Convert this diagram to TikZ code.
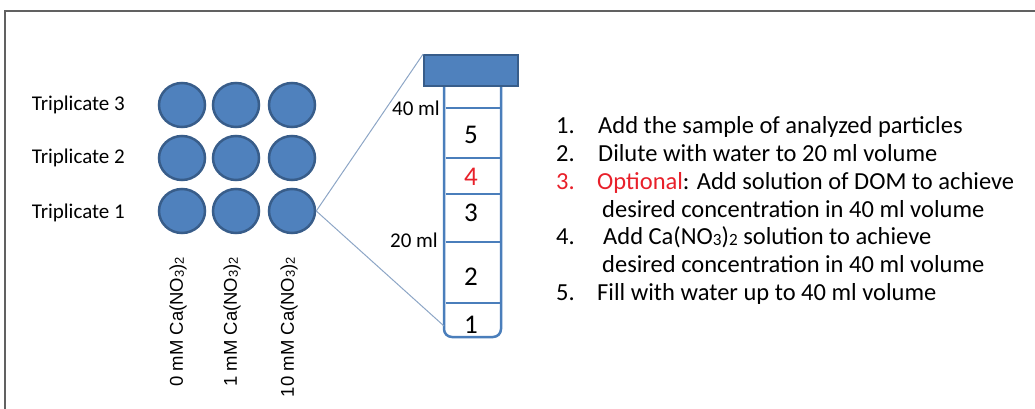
\documentclass[tikz,border=0pt]{standalone}
\usepackage{fontspec}
\setmainfont{Carlito}
\newfontfamily\arialfont{Liberation Sans}
\usepackage{tikz}
\usetikzlibrary{shapes.geometric}

\definecolor{wellblue}{HTML}{4F81BD}
\definecolor{welledge}{HTML}{385D8A}
\definecolor{tubeblue}{HTML}{4A7EBB}
\definecolor{zoomgray}{HTML}{8DA6C6}
\definecolor{optred}{HTML}{E8202A}
\newcommand{\lowdig}[1]{\raisebox{-0.1ex}{\scalebox{0.7}{#1}}}

\tikzset{
  well/.style={ellipse, fill=wellblue, draw=welledge, line width=2.5pt,
    minimum width=46pt, minimum height=44pt, inner sep=0pt},
  tubebody/.style={draw=tubeblue, fill=white, line width=2.5pt, rounded corners=8pt,
    minimum width=57pt, minimum height=261pt, inner sep=0pt},
  capbox/.style={draw=welledge, fill=wellblue, line width=1.8pt,
    minimum width=94pt, minimum height=31pt, inner sep=0pt},
  tubeline/.style={draw=tubeblue, line width=1.8pt},
  zoomline/.style={draw=zoomgray, line width=1pt},
  rowlabel/.style={anchor=east, inner sep=0pt, font=\fontsize{21}{25}\selectfont},
  collabel/.style={anchor=east, rotate=90, inner sep=0pt, font=\arialfont\fontsize{18.5}{22}\selectfont},
  tubenum/.style={inner sep=0pt, font=\fontsize{27}{32}\selectfont},
  steplabel/.style={anchor=base west, inner sep=0pt, font=\fontsize{24.5}{29}\selectfont}
}

\begin{document}
\begin{tikzpicture}[x=1pt, y=-1pt]
\useasboundingbox (0,0) rectangle (1035,409);
% Frame (only top and left edges are seen)
\draw[color=black!62, line width=1.5pt] (5,409) -- (5,11) -- (1035,11);

% Wells: three rows of triplicates
\foreach \col/\x in {1/182,2/236,3/292}
  \foreach \row/\y in {1/211,2/158,3/105}
    \node[well] (c\row\col) at (\x,\y) {};
\node[rowlabel] (r3) at (125,105) {Triplicate 3};
\node[rowlabel] (r2) at (125,158) {Triplicate 2};
\node[rowlabel] (r1) at (125,213) {Triplicate 1};

% Concentration labels
\node[collabel] (k1) at (178,257) {0 mM Ca(NO\lowdig{3})\lowdig{2}};
\node[collabel] (k2) at (232,257) {1 mM Ca(NO\lowdig{3})\lowdig{2}};
\node[collabel] (k3) at (289,257) {10 mM Ca(NO\lowdig{3})\lowdig{2}};

% Tube with cap
\node[tubebody] (tube) at (472.5,206.5) {};
\node[capbox] (cap) at (471,70.5) {};
\foreach \y in {108,158,194,242,303}
  \draw[tubeline] (445.5,\y) -- (499.5,\y);
\node[tubenum] (t5) at (471,135) {5};
\node[tubenum, text=optred] (t4) at (471,177) {4};
\node[tubenum] (t3) at (471,213) {3};
\node[tubenum] (t2) at (471,277) {2};
\node[tubenum] (t1) at (471,325) {1};
\node[rowlabel] (m40) at (440,108) {40 ml};
\node[rowlabel] (m20) at (438,240) {20 ml};

% Zoom lines from the well to the tube
\coordinate (tubebl) at (444,326);
\draw[zoomline] (c13.east) -- (cap.north west);
\draw[zoomline] (c13.east) -- (tubebl);

% Steps
\node[steplabel] (n1) at (556,133) {1.};
\node[steplabel] (s1) at (598,133) {Add the sample of analyzed particles};
\node[steplabel] (n2) at (556,161) {2.};
\node[steplabel] (s2) at (598,161) {Dilute with water to 20 ml volume};
\node[steplabel, text=optred] (n3) at (556,189) {3.};
\node[steplabel] (s3) at (597,189) {\textcolor{optred}{Optional}: Add solution of DOM to achieve};
\node[steplabel] (s3b) at (602,217) {desired concentration in 40 ml volume};
\node[steplabel] (n4) at (556,244) {4.};
\node[steplabel] (s4) at (603,244) {Add Ca(NO\lowdig{3})\lowdig{2} solution to achieve};
\node[steplabel] (s4b) at (602,272) {desired concentration in 40 ml volume};
\node[steplabel] (n5) at (556,300) {5.};
\node[steplabel] (s5) at (597,300) {Fill with water up to 40 ml volume};
\end{tikzpicture}
\end{document}
